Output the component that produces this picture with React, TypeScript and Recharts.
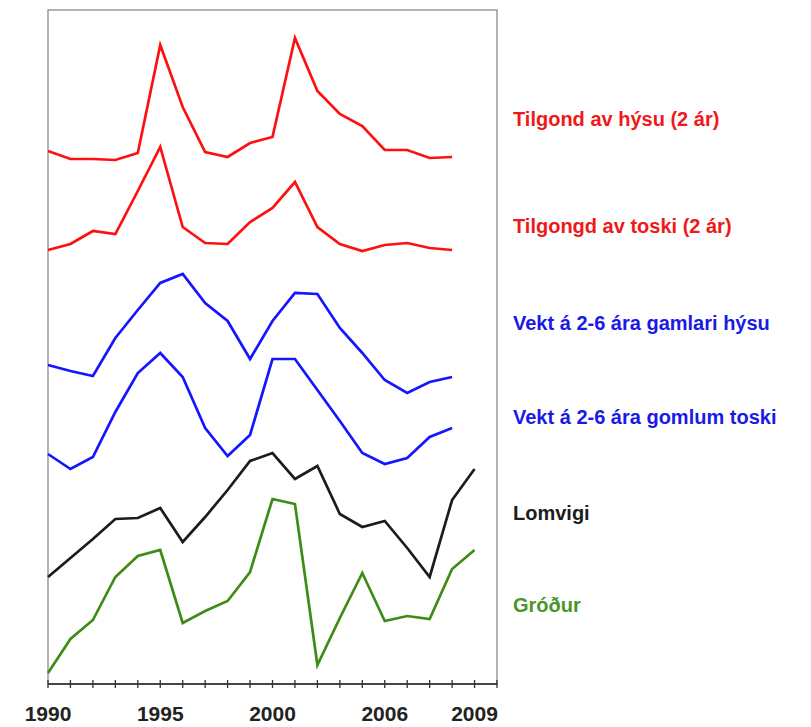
import { LineChart, Line, XAxis, YAxis, ReferenceArea } from "recharts";

const years = [
  1990, 1991, 1992, 1993, 1994, 1995, 1996, 1997, 1998, 1999,
  2000, 2001, 2002, 2003, 2004, 2005, 2006, 2007, 2008, 2009,
];

// values are on a shared, offset scale (each series stacked in its own band)
const hysuRecruit = [533, 525, 525, 524, 531, 639, 577, 532, 527, 541, 547, 646, 593, 570, 558, 534, 534, 526, 527, null];
const toskiRecruit = [434, 440, 453, 450, 493, 537, 457, 441, 440, 462, 476, 502, 457, 440, 433, 439, 441, 436, 434, null];
const hysuWeight = [319, 313, 308, 346, 374, 401, 410, 381, 363, 325, 363, 391, 390, 356, 331, 304, 291, 302, 307, null];
const toskiWeight = [230, 215, 227, 272, 311, 331, 307, 256, 228, 249, 325, 325, 294, 263, 231, 220, 226, 247, 256, null];
const lomvigi = [107, 126, 145, 165, 166, 176, 142, 167, 194, 223, 231, 205, 218, 170, 157, 163, 136, 107, 184, 215];
const groedur = [11, 45, 64, 107, 128, 134, 61, 73, 83, 112, 185, 180, 19, 66, 111, 63, 68, 65, 115, 134];

const seriesNames = [
  "Tilgond av hýsu (2 ár)",
  "Tilgongd av toski (2 ár)",
  "Vekt á 2-6 ára gamlari hýsu",
  "Vekt á 2-6 ára gomlum toski",
  "Lomvigi",
  "Gróður",
];

const xTicks = [
  1990, 1991, 1992, 1993, 1994, 1995, 1996, 1997, 1998, 1999, 2000,
  2001, 2002, 2003, 2004, 2005, 2006, 2007, 2008, 2009, 2010,
];
const tickText: Record<number, string> = {
  1990: "1990",
  1995: "1995",
  2000: "2000",
  2005: "2006",
  2009: "2009",
};

const data = years.map((year, i) => ({
  year,
  hysuRecruit: hysuRecruit[i],
  toskiRecruit: toskiRecruit[i],
  hysuWeight: hysuWeight[i],
  toskiWeight: toskiWeight[i],
  lomvigi: lomvigi[i],
  groedur: groedur[i],
}));

const series = [
  { key: "hysuRecruit", color: "#ff1010", label: "#f01818", top: 119 },
  { key: "toskiRecruit", color: "#ff1010", label: "#f01818", top: 226 },
  { key: "hysuWeight", color: "#1515ff", label: "#1a1ae6", top: 323 },
  { key: "toskiWeight", color: "#1515ff", label: "#1a1ae6", top: 417 },
  { key: "lomvigi", color: "#1c1c1c", label: "#1c1c1c", top: 513 },
  { key: "groedur", color: "#3d8c17", label: "#4a962a", top: 605 },
];

const font = "'Liberation Sans', Arial, sans-serif";

function YearTick(props: any) {
  const { x, y, payload } = props;
  const label = tickText[payload.value];
  return (
    <g>
      <line x1={x} x2={x} y1={y - 4} y2={y + 4} stroke="#333" strokeWidth={1.3} />
      {label && (
        <text
          x={x}
          y={y + 37}
          textAnchor="middle"
          fontFamily={font}
          fontWeight="bold"
          fontSize={21}
          fill="#222"
        >
          {label}
        </text>
      )}
    </g>
  );
}

export default function App() {
  return (
    <div style={{ position: "absolute", left: 0, top: 0, width: 811, height: 727, background: "#fff" }}>
      <LineChart
        width={811}
        height={727}
        data={data}
        margin={{ top: 10, right: 314, bottom: 0, left: 48 }}
      >
        <ReferenceArea
          x1={1990}
          x2={2010}
          y1={0}
          y2={674}
          fill="none"
          stroke="#9a9a9a"
          strokeWidth={1.5}
        />
        <XAxis
          dataKey="year"
          type="number"
          domain={[1990, 2010]}
          ticks={xTicks}
          interval={0}
          height={43}
          tickSize={0}
          tickMargin={0}
          tickLine={false}
          axisLine={{ stroke: "#222", strokeWidth: 1.5 }}
          tick={<YearTick />}
        />
        <YAxis type="number" domain={[0, 674]} hide />
        {series.map((s) => (
          <Line
            key={s.key}
            dataKey={s.key}
            stroke={s.color}
            strokeWidth={2.7}
            dot={false}
            activeDot={false}
            strokeLinejoin="miter"
            isAnimationActive={false}
          />
        ))}
      </LineChart>
      {series.map((s, i) => (
        <div
          key={s.key}
          style={{
            position: "absolute",
            left: 513,
            top: s.top - 12,
            height: 24,
            lineHeight: "24px",
            fontFamily: font,
            fontWeight: "bold",
            fontSize: 20,
            color: s.label,
            whiteSpace: "nowrap",
          }}
        >
          {seriesNames[i]}
        </div>
      ))}
    </div>
  );
}
